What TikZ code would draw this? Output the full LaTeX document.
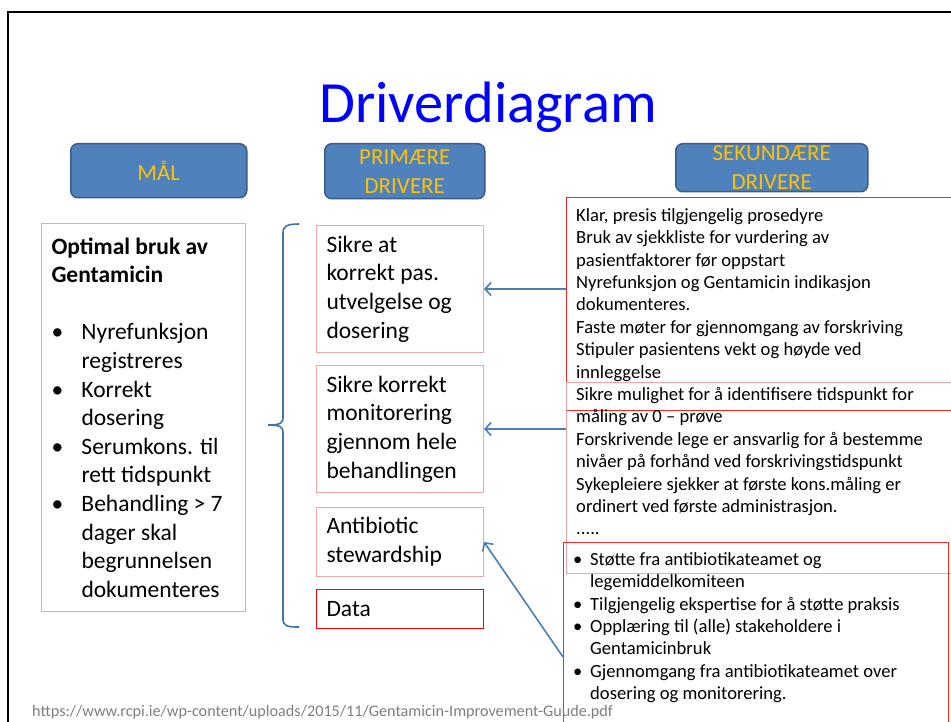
\documentclass[tikz,border=0pt]{standalone}
\usepackage{fontspec}
\setmainfont{Carlito}
\usetikzlibrary{arrows.meta}
\definecolor{hdrfill}{RGB}{79,129,189}
\definecolor{hdrline}{RGB}{56,93,138}
\definecolor{hdrtext}{RGB}{255,192,0}
\definecolor{pinkline}{RGB}{244,164,164}
\definecolor{redline}{RGB}{240,40,40}
\definecolor{arrowblue}{RGB}{74,126,187}
\definecolor{titleblue}{RGB}{0,0,255}
\definecolor{urlgray}{RGB}{127,127,127}
\newcommand{\fsz}[2]{\fontsize{#1}{#2}\selectfont}
\newcommand{\blt}[1]{\makebox[#1][l]{\textbullet}}

\begin{document}
\begin{tikzpicture}[x=1pt,y=-1pt,
	header/.style={draw=hdrline,fill=hdrfill,line width=1.5pt,rounded corners=7pt,
		text=hdrtext,align=center,inner sep=0pt,anchor=north west,font=\fsz{23}{29}},
	textbox/.style={draw=pinkline,line width=1pt,anchor=north west,align=flush left,
		inner xsep=10pt,inner ysep=0pt,font=\fsz{23.5}{28.6}},
	secbox/.style={line width=1pt,anchor=north west,inner sep=0pt},
	sectext/.style={anchor=north west,align=flush left,inner sep=0pt,font=\fsz{18.6}{22.4}},
	driver/.style={draw=arrowblue,line width=1.6pt,-{Straight Barb[length=6pt,width=13pt]}},
	brace/.style={draw=arrowblue!90!black,line width=1.6pt}]
		\useasboundingbox (0,0) rectangle (951,722);
		\fill[white] (0,0) rectangle (951,722);
		\draw[line width=2.5pt] (8,722) -- (8,12) -- (951,12);
		% title
		\node[text=titleblue,font=\fsz{58.4}{60}] (title) at (488,107) {Driverdiagram};
		% header boxes
		\node[header,minimum width=176,minimum height=54] (maal) at (70,143) {MÅL};
		\node[header,minimum width=160,minimum height=55] (prim) at (324,143) {PRIMÆRE\\DRIVERE};
		\node[header,minimum width=192,minimum height=48] (sek) at (675,143) {SEKUNDÆRE\\DRIVERE};
		% goal
		\node[textbox,text width=184,minimum width=204,minimum height=388] (goal) at (41,223)
			{\textbf{Optimal bruk av}\\\textbf{Gentamicin}\\[28.6pt]
			\blt{30pt}Nyrefunksjon\\\hspace*{30pt}registreres\\
			\blt{30pt}Korrekt\\\hspace*{30pt}dosering\\
			\blt{30pt}Serumkons. til\\\hspace*{30pt}rett tidspunkt\\
			\blt{30pt}Behandling > 7\\\hspace*{30pt}dager skal\\
			\hspace*{30pt}begrunnelsen\\\hspace*{30pt}dokumenteres};
		% primary drivers
		\node[textbox,text width=147,minimum width=167,minimum height=127] (prim1) at (316,225)
			{Sikre at\\korrekt pas.\\utvelgelse og\\dosering};
		\node[textbox,text width=147,minimum width=167,minimum height=127] (prim2) at (316,365)
			{Sikre korrekt\\monitorering\\gjennom hele\\behandlingen};
		\node[textbox,text width=147,minimum width=167,minimum height=69] (prim3) at (316,507)
			{Antibiotic\\stewardship};
		\node[textbox,draw=red,text width=147,minimum width=167,minimum height=39] (prim4) at (316,589)
			{Data};
		\draw[brace] (299,224) .. controls (287,224) and (283,226) .. (283,233) -- (283,418)
			.. controls (283,423) and (280,425) .. (268,425);
		\draw[brace] (268,425) .. controls (280,425) and (283,427) .. (283,432) -- (283,619)
			.. controls (283,626) and (287,627) .. (299,627);
		% secondary drivers
		\node[secbox,draw=redline,minimum width=400,minimum height=213] (sekA) at (566,197) {};
		\node[secbox,draw=pinkline,minimum width=400,minimum height=191] (sekB) at (566,382) {};
		\node[secbox,draw=redline,minimum width=385,minimum height=200] (sekC) at (563,542) {};
		\node[sectext] (sekTextA) at (576,205)
			{\rule{0pt}{16pt}Klar, presis tilgjengelig prosedyre\\
			Bruk av sjekkliste for vurdering av\\
			pasientfaktorer før oppstart\\
			Nyrefunksjon og Gentamicin indikasjon\\
			dokumenteres.\\
			Faste møter for gjennomgang av forskriving\\
			Stipuler pasientens vekt og høyde ved\\
			innleggelse\\
			Sikre mulighet for å identifisere tidspunkt for\\
			måling av 0 – prøve\\
			Forskrivende lege er ansvarlig for å bestemme\\
			nivåer på forhånd ved forskrivingstidspunkt\\
			Sykepleiere sjekker at første kons.måling er\\
			ordinert ved første administrasjon.\\
			.....};
		\node[sectext] (sekTextC) at (573,549)
			{\rule{0pt}{16pt}\blt{17pt}Støtte fra antibiotikateamet og\\
			\hspace*{17pt}legemiddelkomiteen\\
			\blt{17pt}Tilgjengelig ekspertise for å støtte praksis\\
			\blt{17pt}Opplæring til (alle) stakeholdere i\\
			\hspace*{17pt}Gentamicinbruk\\
			\blt{17pt}Gjennomgang fra antibiotikateamet over\\
			\hspace*{17pt}dosering og monitorering.};
		\path (sekC.north west) ++(0,115) coordinate (tail3);
		\draw[driver] (sekA.west |- prim1.east) -- (prim1.east);
		\draw[driver] (sekB.west |- prim2.east) -- (prim2.east);
		\draw[driver] (tail3) -- (prim3.east);
		% source
		\node[anchor=base west,inner sep=0pt,text=urlgray,font=\fsz{16.2}{18}] (source) at (32,716)
			{https://www.rcpi.ie/wp-content/uploads/2015/11/Gentamicin-Improvement-Guude.pdf};
	\end{tikzpicture}
\end{document}
